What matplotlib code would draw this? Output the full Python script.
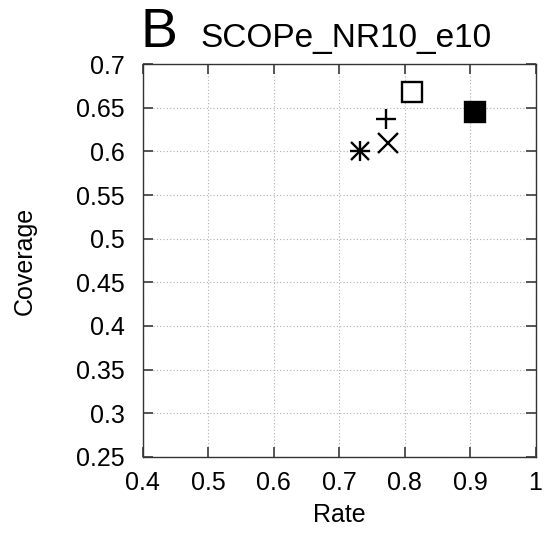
import matplotlib
matplotlib.use("Agg")
import matplotlib.pyplot as plt

# points, one per method
rate = [0.812, 0.908, 0.772, 0.775, 0.732]
coverage = [0.668, 0.645, 0.637, 0.610, 0.600]
markers = ["s", "s", "+", "x", "*"]
filled = [False, True, False, False, False]

xticks = [0.4, 0.5, 0.6, 0.7, 0.8, 0.9, 1.0]
xticklabels = ["0.4", "0.5", "0.6", "0.7", "0.8", "0.9", "1"]
yticks = [0.25, 0.3, 0.35, 0.4, 0.45, 0.5, 0.55, 0.6, 0.65, 0.7]
yticklabels = ["0.25", "0.3", "0.35", "0.4", "0.45", "0.5", "0.55", "0.6", "0.65", "0.7"]

plt.rcParams["font.family"] = ["Liberation Sans", "DejaVu Sans"]

fig = plt.figure(figsize=(5.47, 5.35), dpi=100)
ax = fig.add_axes([0.261, 0.146, 0.718, 0.734])

for x, y, m, f in zip(rate, coverage, markers, filled):
    if m == "*":
        # gnuplot style asterisk = plus over cross
        ax.plot([x], [y], marker="+", ms=15, mew=1.7, color="black", ls="none")
        ax.plot([x], [y], marker="x", ms=13, mew=1.7, color="black", ls="none")
    elif m == "s":
        ax.plot([x], [y], marker="s", ms=15, mew=1.7, color="black",
                mfc="black" if f else "white", ls="none")
    else:
        ax.plot([x], [y], marker=m, ms=15, mew=1.7, color="black", ls="none")

ax.set_xlim(0.4, 1.0)
ax.set_ylim(0.25, 0.7)
ax.set_xticks(xticks)
ax.set_xticklabels(xticklabels)
ax.set_yticks(yticks)
ax.set_yticklabels(yticklabels)
ax.tick_params(direction="in", top=True, right=True, length=7, width=1.4,
               labelsize=18, color="#555555")
ax.tick_params(axis="x", pad=10)
ax.tick_params(axis="y", pad=13)
ax.grid(True, ls=(0, (1, 2)), color="#b0b0b0", lw=0.8)
for s in ax.spines.values():
    s.set_color("#333333")
    s.set_linewidth(1.0)

ax.set_xlabel("Rate", fontsize=18, labelpad=6)
ax.set_ylabel("Coverage", fontsize=18, labelpad=28)

fig.text(0.257, 0.912, "B", fontsize=40, va="baseline")
fig.text(0.366, 0.912, "SCOPe_NR10_e10", fontsize=24, va="baseline")

fig.savefig("out.png", dpi=100)
